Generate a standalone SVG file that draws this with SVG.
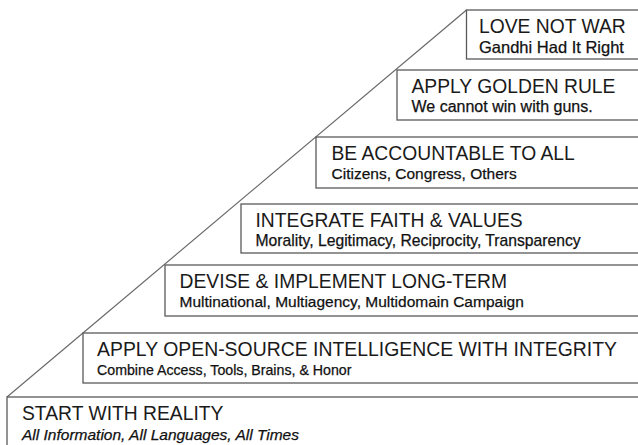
<svg xmlns="http://www.w3.org/2000/svg" width="638" height="445" viewBox="0 0 638 445">
<style>
.box{fill:#ffffff;stroke:#5a5a5a;stroke-width:1.3}
.t{font-family:"Liberation Sans",Arial,sans-serif;font-size:19.3px;fill:#1a1a1a}
.s{font-family:"Liberation Sans",Arial,sans-serif;font-size:15.5px;fill:#111111;stroke:#111111;stroke-width:0.25}
.i{font-style:italic}
.edge{stroke:#6a6a6a;stroke-width:1.2;fill:none}
</style>
<rect width="638" height="445" fill="#ffffff"/>
<g id="connectors">
<line class="edge" x1="7" y1="397" x2="466.5" y2="10"/>
</g>
<g id="n1">
<rect class="box" x="466.5" y="10" width="200" height="49"/>
<text class="t" x="479" y="32.5">LOVE NOT WAR</text>
<text class="s" x="479" y="52.5" style="font-size:16.5px">Gandhi Had It Right</text>
</g>
<g id="n2">
<rect class="box" x="397" y="70" width="260" height="50"/>
<text class="t" x="411.5" y="93">APPLY GOLDEN RULE</text>
<text class="s" x="411.5" y="112" style="font-size:16px">We cannot win with guns.</text>
</g>
<g id="n3">
<rect class="box" x="316" y="137" width="340" height="51"/>
<text class="t" x="331.5" y="160">BE ACCOUNTABLE TO ALL</text>
<text class="s" x="331.5" y="179">Citizens, Congress, Others</text>
</g>
<g id="n4">
<rect class="box" x="241" y="204" width="420" height="49"/>
<text class="t" x="255.5" y="227">INTEGRATE FAITH &amp; VALUES</text>
<text class="s" x="255.5" y="246" style="font-size:15.7px">Morality, Legitimacy, Reciprocity, Transparency</text>
</g>
<g id="n5">
<rect class="box" x="165" y="265" width="500" height="51"/>
<text class="t" x="179.5" y="288">DEVISE &amp; IMPLEMENT LONG-TERM</text>
<text class="s" x="179.5" y="307">Multinational, Multiagency, Multidomain Campaign</text>
</g>
<g id="n6">
<rect class="box" x="83" y="333" width="580" height="50"/>
<text class="t" x="97" y="356" textLength="520" lengthAdjust="spacingAndGlyphs">APPLY OPEN-SOURCE INTELLIGENCE WITH INTEGRITY</text>
<text class="s" x="97" y="375" style="font-size:14.2px">Combine Access, Tools, Brains, &amp; Honor</text>
</g>
<g id="n7">
<rect class="box" x="7" y="397" width="660" height="80"/>
<text class="t" x="22" y="420">START WITH REALITY</text>
<text class="s i" x="22" y="440">All Information, All Languages, All Times</text>
</g>
</svg>
